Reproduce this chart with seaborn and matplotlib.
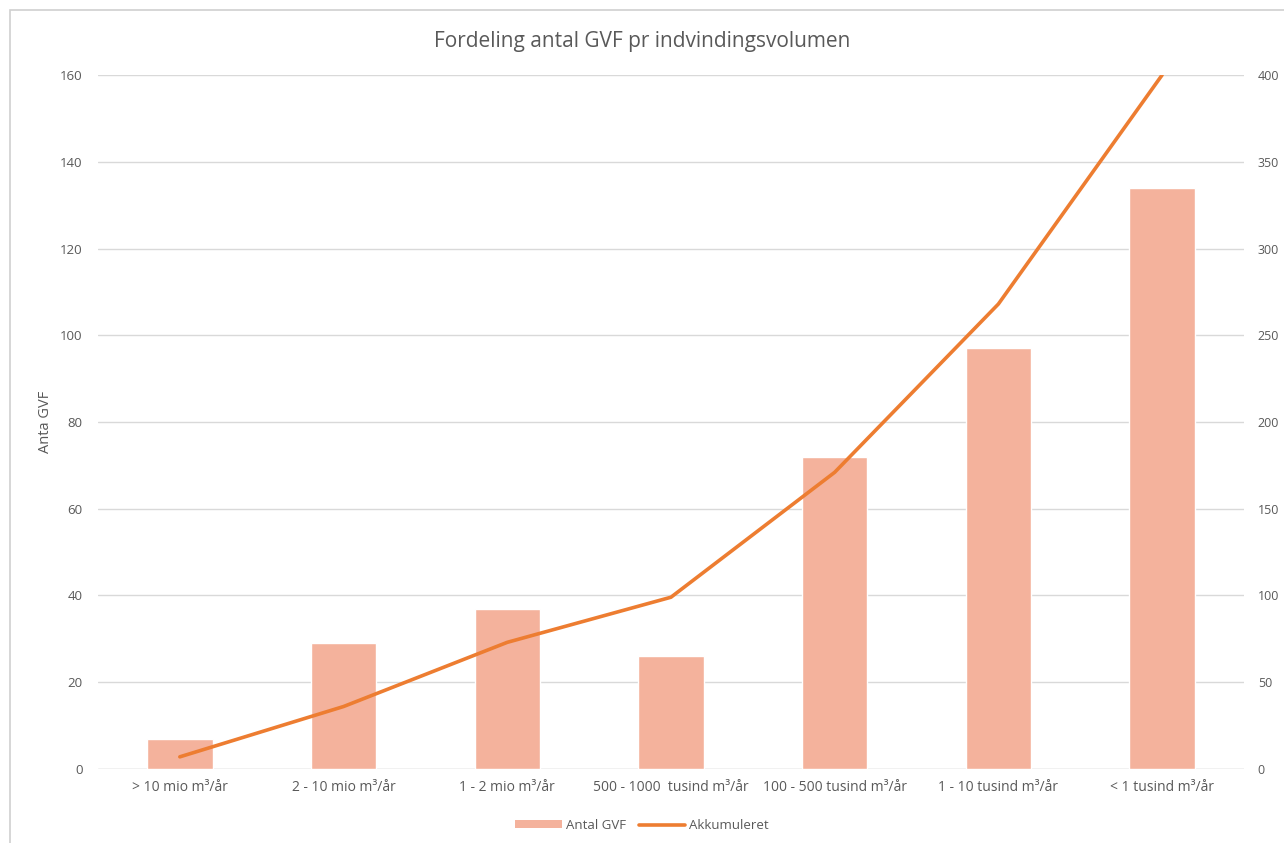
import pandas as pd
import matplotlib
matplotlib.use("Agg")
import matplotlib.pyplot as plt
import seaborn as sns
from matplotlib.patches import Rectangle
from matplotlib.lines import Line2D
from matplotlib.patches import Patch

# Data
categories = [
    "> 10 mio m³/år",
    "2 - 10 mio m³/år",
    "1 - 2 mio m³/år",
    "500 - 1000  tusind m³/år",
    "100 - 500 tusind m³/år",
    "1 - 10 tusind m³/år",
    "< 1 tusind m³/år",
]
antal_gvf = [7, 29, 37, 26, 72, 97, 134]
akkumuleret = [7, 36, 73, 99, 171, 268, 400]

left_ticks = [0, 20, 40, 60, 80, 100, 120, 140, 160]
right_ticks = [0, 50, 100, 150, 200, 250, 300, 350, 400]

BAR_COLOR = "#F4B29C"
LINE_COLOR = "#ED7D31"
TEXT_COLOR = "#595959"
GRID_COLOR = "#D9D9D9"

sns.set_theme(style="white")
plt.rcParams["font.family"] = ["Open Sans", "DejaVu Sans"]

df = pd.DataFrame({"kategori": categories, "antal": antal_gvf, "akk": akkumuleret})

fig = plt.figure(figsize=(12.84, 8.43), dpi=100)
ax = fig.add_axes([0.0763, 0.0878, 0.8925, 0.8232])

# kant rundt om diagrammet
fig.patches.append(Rectangle((10 / 1284, -0.1), 1.2, 1 - 10 / 843 + 0.1,
                             transform=fig.transFigure, fill=False,
                             edgecolor="#D0D0D0", linewidth=1.2, zorder=0))

sns.barplot(data=df, x="kategori", y="antal", color=BAR_COLOR, width=0.4,
            saturation=1, ax=ax, zorder=2)
ax.set_ylim(0, 160)
ax.set_yticks(left_ticks)
ax.set_xlim(-0.5, len(categories) - 0.5)
ax.yaxis.grid(True, color=GRID_COLOR, linewidth=1)
ax.set_axisbelow(True)
for s in ax.spines.values():
    s.set_visible(False)
ax.axhline(0, color=GRID_COLOR, linewidth=1, zorder=1)
ax.set_xlabel("")
ax.set_ylabel("Anta GVF", color=TEXT_COLOR, fontsize=10.5, labelpad=5)
ax.tick_params(axis="y", colors=TEXT_COLOR, labelsize=9.5, length=0, pad=11)
ax.tick_params(axis="x", colors=TEXT_COLOR, labelsize=10, length=0, pad=8)

ax2 = ax.twinx()
sns.lineplot(data=df, x="kategori", y="akk", color=LINE_COLOR, linewidth=2.6,
             sort=False, ax=ax2, zorder=3)
ax2.set_ylim(0, 400)
ax2.set_yticks(right_ticks)
ax2.set_ylabel("")
for s in ax2.spines.values():
    s.set_visible(False)
ax2.tick_params(axis="y", colors=TEXT_COLOR, labelsize=9, length=0, pad=10)
ax2.grid(False)

fig.text(0.5, 0.951, "Fordeling antal GVF pr indvindingsvolumen",
         ha="center", va="center", fontsize=15, color=TEXT_COLOR)

handles = [Patch(facecolor=BAR_COLOR, edgecolor="none"),
           Line2D([0], [0], color=LINE_COLOR, linewidth=2.6)]
fig.legend(handles, ["Antal GVF", "Akkumuleret"], loc="center",
           bbox_to_anchor=(0.5, 0.021), ncol=2, frameon=False, fontsize=9.5,
           labelcolor=TEXT_COLOR, handlelength=3.5, handleheight=0.5,
           columnspacing=1.0, handletextpad=0.3)

fig.savefig("out.png", dpi=100, facecolor="white")
